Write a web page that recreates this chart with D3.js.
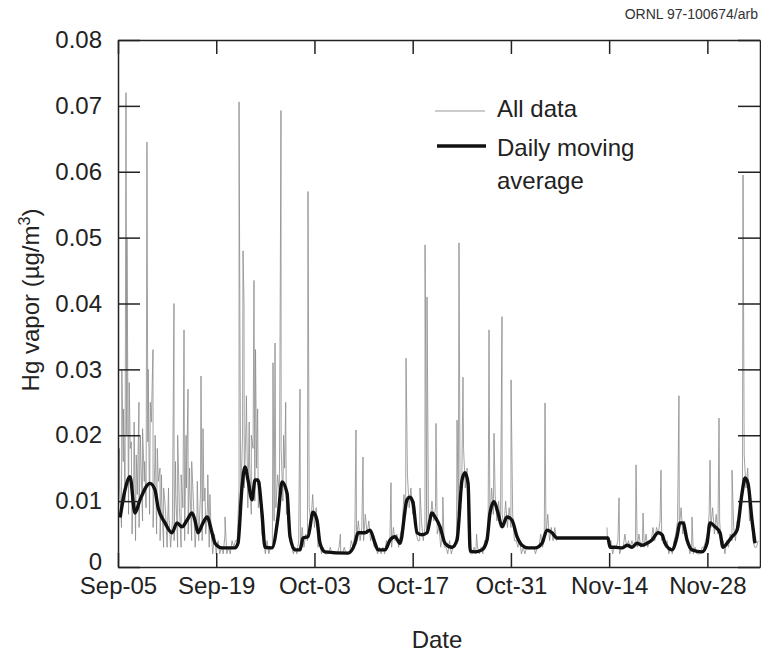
<!DOCTYPE html>
<html>
<head>
<meta charset="utf-8">
<script src="https://cdn.jsdelivr.net/npm/d3@7"></script>
<style>
  body { margin: 0; background: #fff; }
  svg { display: block; font-family: "Liberation Sans", Arial, sans-serif; }
  .axis text { font-size: 24px; fill: #222; }
  .axis path, .axis line { stroke: #222; stroke-width: 1.5; }
</style>
</head>
<body>
<div id="chart"></div>
<script>
// Date range of the record (day 0 = Sep-05)
const startDate = "1996-09-05T00:00:00Z";
const endDate = "1996-12-05T12:00:00Z";
const xTickDates = ["1996-09-05", "1996-09-19", "1996-10-03", "1996-10-17", "1996-10-31", "1996-11-14", "1996-11-28"];
const yTicks = [0, 0.01, 0.02, 0.03, 0.04, 0.05, 0.06, 0.07, 0.08];

// All data: readings every 6 h from Sep-05 (null = no data)
const rawVals = [
  .004,.012,.006,.016, .010,.020,.008,.018, .005,.014,.004,.011, .006,.017,.007,.013,
  .009,.019,.008,.022, .006,.016,.005,.013, .004,.010,.003,.009, .003,.008,.003,.007,
  .004,.011,.003,.009, .003,.009,.004,.012, .005,.012,.004,.010, .003,.008,.004,.011,
  .004,.010,.005,.009, .003,.006,.002,.005, .002,.004,.002,.003, .002,.005,.002,.003,
  .002,.004,.003,.004, .004,.012,.010,.020, .012,.022,.009,.016, .008,.018,.010,.015,
  .009,.013,.005,.004, .002,.004,.002,.003, .003,.007,.009,.014, .011,.018,.010,.015,
  .008,.011,.004,.003, .002,.003,.002,.004, .003,.006,.003,.005, .004,.009,.007,.011,
  .006,.009,.003,.004, .002,.003,.002,.002, .002,.003,.002,.002, .002,.002,.003,.002,
  .002,.003,.002,.002, .002,.004,.003,.005, .004,.007,.004,.006, .004,.008,.005,.007,
  .004,.005,.003,.003, .002,.003,.002,.003, .002,.004,.003,.004, .003,.006,.004,.005,
  .003,.005,.006,.011, .008,.014,.009,.012, .008,.010,.005,.004, .004,.007,.004,.006,
  .005,.008,.007,.010, .007,.009,.005,.006, .003,.005,.003,.003, .002,.004,.002,.003,
  .003,.005,.008,.012, .013,.018,.012,.015, .003,.002,.002,.003, .002,.003,.002,.003,
  .002,.004,.004,.006, .007,.012,.008,.011, .007,.010,.006,.008, .006,.010,.006,.009,
  .006,.008,.004,.004, .003,.004,.002,.003, .002,.003,.003,.003, .003,.003,.002,.003,
  .003,.005,.003,.004, .005,.008,.004,.006, .004,.006,.004,null,
  null,null,null,null, null,null,null,null, null,null,null,null, null,null,null,null,
  null,null,null,null, null,null,null,null, null,null,null,.004,
  .003,.004,.002,.003, .003,.004,.002,.003, .003,.005,.003,.004, .003,.004,.003,.004,
  .003,.005,.003,.004, .003,.005,.003,.004, .004,.006,.004,.006, .005,.007,.004,.005,
  .003,.004,.002,.003, .002,.004,.005,.007, .006,.009,.005,.007, .004,.004,.002,.003,
  .002,.003,.002,.002, .002,.003,.003,.004, .005,.008,.006,.009, .005,.008,.005,.007,
  .003,.004,.002,.004, .003,.005,.004,.006, .004,.007,.006,.010, .011,.017,.012,.015,
  .007,.009,.004,.003, .003,.004
];

// short spikes in the raw record: [day, value]
const rawSpikes = [
  [0.2,.018],[0.55,.030],[0.8,.024],[1.14,.072],[1.28,.050],[1.6,.028],[1.9,.019],
  [2.3,.022],[2.6,.017],[2.99,.025],[3.2,.020],[3.5,.021],[3.8,.016],[4.13,.0645],
  [4.3,.030],[4.6,.025],[4.99,.033],[5.3,.020],[5.6,.018],[5.99,.015],[6.2,.014],
  [6.5,.012],[7.2,.012],[7.98,.040],[8.2,.016],[8.5,.020],[9.0,.014],[9.41,.036],
  [9.7,.020],[9.98,.027],[10.2,.015],[10.5,.016],[11.3,.013],[11.83,.029],[12.12,.021],
  [12.4,.012],[12.8,.014],[13.1,.011],[15.25,.0076],
  [17.25,.0706],[17.4,.030],[17.82,.048],[17.96,.040],[18.3,.026],[18.7,.022],[19.0,.020],
  [19.38,.0435],[19.6,.033],[19.9,.024],
  [22.09,.031],[22.38,.034],[23.23,.0693],[23.6,.020],[23.9,.025],[25.94,.027],[27.08,.057],[31.7,.005],
  [33.92,.0208],[34.92,.0167],[38.91,.0128],[41.05,.0317],[43.04,.012],[43.76,.0489],
  [44.04,.041],[45.32,.0218],[46.3,.0106],[48.32,.0223],[48.6,.0492],[49.17,.0288],
  [51.1,.005],[52.88,.036],[53.59,.0203],[54.73,.038],[56.02,.0284],[60.86,.0249],
  [69.7,.006],[71.41,.0105],[73.83,.0155],[74.83,.0082],[77.39,.0147],[79.95,.026],
  [81.81,.0076],[84.38,.0162],[85.66,.0226],[87.51,.0147],[89.08,.0595]
];

// Daily moving average: [day, value]
const avgSeries = [
  [0.3,.0075],[1.0,.0117],[1.71,.0137],[2.42,.0082],[3.14,.0102],[4.56,.0127],[5.27,.0117],
  [5.70,.0091],[6.70,.0067],[7.70,.0052],[8.41,.0067],[9.12,.0061],[9.83,.0071],[10.55,.0082],
  [10.97,.0071],[11.40,.0052],[12.12,.0067],[12.69,.0076],[13.40,.0052],[13.83,.0036],
  [14.82,.0029],[16.68,.0029],[17.10,.0036],[17.67,.0121],[18.10,.0152],[18.53,.0132],
  [19.10,.0102],[19.53,.0132],[19.95,.0132],[20.52,.0082],[20.95,.0030],[21.95,.0029],
  [22.81,.0076],[23.38,.0129],[24.09,.0112],[24.52,.0046],[25.23,.0026],[25.94,.0026],
  [26.37,.0044],[27.08,.0046],[27.79,.0083],[28.36,.0071],[28.79,.0036],[29.50,.0023],
  [32.78,.0021],[33.78,.0036],[34.21,.0052],[35.21,.0052],[35.92,.0056],[36.63,.0036],
  [37.06,.0026],[38.06,.0026],[38.77,.0041],[39.48,.0046],[40.19,.0036],[41.19,.0102],
  [41.62,.0106],[42.05,.0097],[42.62,.0052],[43.33,.0049],[44.04,.0052],[44.75,.0082],
  [45.18,.0076],[45.90,.0061],[46.61,.0036],[47.61,.0030],[48.32,.0041],[49.03,.0132],
  [49.46,.0143],[49.89,.0127],[50.20,.0024],[50.88,.0023],[51.88,.0026],[52.59,.0041],
  [53.02,.0082],[53.59,.0099],[54.16,.0082],[54.73,.0061],[55.44,.0076],[56.16,.0071],
  [56.87,.0046],[57.58,.0033],[58.44,.0029],[59.44,.0029],[60.43,.0036],[61.15,.0056],
  [61.86,.0052],[62.57,.0044],[69.84,.0044],[70.12,.0030],[70.84,.0030],[71.84,.0029],
  [72.55,.0033],[73.26,.0030],[73.97,.0036],[74.69,.0033],[75.40,.0036],[76.11,.0041],
  [76.97,.0052],[77.54,.0049],[77.96,.0036],[78.96,.0026],[79.67,.0046],[80.10,.0067],
  [80.53,.0067],[81.10,.0041],[81.81,.0026],[83.24,.0023],[83.95,.0036],[84.38,.0067],
  [85.09,.0061],[85.80,.0052],[86.23,.0030],[86.80,.0036],[87.51,.0046],[88.23,.0056],
  [88.94,.0112],[89.37,.0135],[89.79,.0127],[90.36,.0071],[90.79,.0036]
];

(function() {
  const width = 761, height = 654;
  const plot = { left: 118, top: 40, right: 760, bottom: 567 };

  const t0 = d3.isoParse(startDate);
  const dayToDate = d => new Date(t0.getTime() + d * 864e5);

  const svg = d3.select("#chart").append("svg")
    .attr("width", width)
    .attr("height", height);

  const x = d3.scaleUtc()
    .domain([t0, d3.isoParse(endDate)])
    .range([plot.left, plot.right]);

  const y = d3.scaleLinear()
    .domain([0, 0.08])
    .range([plot.bottom, plot.top]);

  const tickDates = xTickDates.map(d => d3.utcParse("%Y-%m-%d")(d));

  // raw readings + spikes merged by time
  const raw = rawVals.map((v, i) => [i / 4, v])
    .concat(rawSpikes)
    .sort((a, b) => a[0] - b[0]);

  svg.append("clipPath").attr("id", "plot-clip")
    .append("rect")
    .attr("x", plot.left).attr("y", plot.top)
    .attr("width", plot.right - plot.left).attr("height", plot.bottom - plot.top);

  const lineRaw = d3.line()
    .defined(d => d[1] != null)
    .x(d => x(dayToDate(d[0])))
    .y(d => y(d[1]));

  svg.append("path")
    .datum(raw)
    .attr("clip-path", "url(#plot-clip)")
    .attr("fill", "none")
    .attr("stroke", "#8c8c8c")
    .attr("stroke-width", 0.8)
    .attr("d", lineRaw);

  const lineAvg = d3.line()
    .x(d => x(dayToDate(d[0])))
    .y(d => y(d[1]))
    .curve(d3.curveMonotoneX);

  svg.append("path")
    .datum(avgSeries)
    .attr("clip-path", "url(#plot-clip)")
    .attr("fill", "none")
    .attr("stroke", "#111")
    .attr("stroke-width", 3.4)
    .attr("stroke-linejoin", "round")
    .attr("d", lineAvg);

  // Axes (ticks point inward on all four sides)
  svg.append("g")
    .attr("class", "axis")
    .attr("transform", `translate(0,${plot.bottom})`)
    .call(d3.axisBottom(x).tickValues(tickDates).tickFormat(d3.utcFormat("%b-%d"))
      .tickSize(-14).tickSizeOuter(0).tickPadding(10));

  svg.append("g")
    .attr("class", "axis")
    .attr("transform", `translate(0,${plot.top})`)
    .call(d3.axisTop(x).tickValues(tickDates).tickFormat("")
      .tickSize(-14).tickSizeOuter(0));

  const yAxis = svg.append("g")
    .attr("class", "axis")
    .attr("transform", `translate(${plot.left},0)`)
    .call(d3.axisLeft(y).tickValues(yTicks)
      .tickFormat(d => d === 0 ? "0" : d.toFixed(2))
      .tickSize(-22).tickSizeOuter(0).tickPadding(16));

  // lift the "0" a little so it clears the first date label
  yAxis.selectAll(".tick text").filter(d => d === 0).attr("dy", "0.1em");

  svg.append("g")
    .attr("class", "axis")
    .attr("transform", `translate(${plot.right},0)`)
    .call(d3.axisRight(y).tickValues(yTicks).tickFormat("")
      .tickSize(-22).tickSizeOuter(0));

  // Axis titles
  svg.append("text")
    .attr("x", (plot.left + plot.right) / 2 - 2)
    .attr("y", 648)
    .attr("text-anchor", "middle")
    .attr("font-size", "24px")
    .attr("fill", "#222")
    .text("Date");

  const yt = svg.append("text")
    .attr("transform", "translate(39,300) rotate(-90)")
    .attr("text-anchor", "middle")
    .attr("font-size", "24px")
    .attr("fill", "#222");
  yt.append("tspan").text("Hg vapor (\u00b5g/m");
  yt.append("tspan").attr("font-size", "16px").attr("dy", "-9").text("3");
  yt.append("tspan").attr("dy", "9").text(")");

  svg.append("text")
    .attr("x", 758)
    .attr("y", 19)
    .attr("text-anchor", "end")
    .attr("font-size", "14px")
    .attr("fill", "#333")
    .text("ORNL 97-100674/arb");

  // Legend
  const lg = svg.append("g");
  lg.append("line")
    .attr("x1", 435).attr("x2", 485).attr("y1", 111).attr("y2", 111)
    .attr("stroke", "#999").attr("stroke-width", 1);
  lg.append("line")
    .attr("x1", 437).attr("x2", 486).attr("y1", 146).attr("y2", 146)
    .attr("stroke", "#111").attr("stroke-width", 3.4);
  const legendText = [["All data", 117], ["Daily moving", 156], ["average", 189]];
  lg.selectAll("text.lbl")
    .data(legendText)
    .join("text")
    .attr("class", "lbl")
    .attr("x", 497)
    .attr("y", d => d[1])
    .attr("font-size", "24px")
    .attr("fill", "#222")
    .text(d => d[0]);
})();
</script>
</body>
</html>
